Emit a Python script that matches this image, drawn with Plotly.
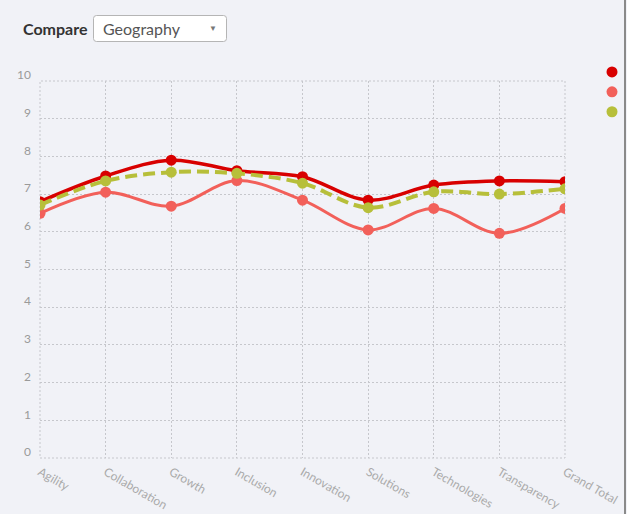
import plotly.graph_objects as go

categories = ["Agility", "Collaboration", "Growth", "Inclusion", "Innovation",
              "Solutions", "Technologies", "Transparency", "Grand Total"]
series_names = ["Europe", "North America", "Total"]
red_vals = [6.80, 7.48, 7.90, 7.62, 7.46, 6.84, 7.24, 7.35, 7.33]
salmon_vals = [6.49, 7.05, 6.68, 7.36, 6.84, 6.05, 6.62, 5.96, 6.62]
olive_vals = [6.71, 7.35, 7.58, 7.55, 7.29, 6.64, 7.06, 7.00, 7.14]
y_ticks = [0, 1, 2, 3, 4, 5, 6, 7, 8, 9, 10]

colors = ["#d80000", "#f2605a", "#b7bf3a"]
W, H = 627, 514
L, R, T, B = 40, 62, 81, 56
PW, PH = W - L - R, H - T - B


def px(x):
    return (x - L) / PW


def py(y):
    return (H - B - y) / PH


BG = "#f1f2f7"
FONT = "Lato"
GRID = "#c6c7cc"

fig = go.Figure()
vals = [red_vals, salmon_vals, olive_vals]
widths = [3.5, 3, 4]
dashes = ["solid", "solid", "12px,6px"]
for name, v, c, w, d in zip(series_names, vals, colors, widths, dashes):
    fig.add_trace(go.Scatter(
        x=categories, y=v, mode="lines+markers", name=name,
        line=dict(color=c, width=w, shape="spline", dash=d),
        marker=dict(color=c, size=11), showlegend=False,
        hoverinfo="x+y+name"))
for name, c in zip(series_names, colors):
    fig.add_trace(go.Scatter(
        x=[None], y=[None], mode="markers", name=name,
        marker=dict(color=c, size=11), showlegend=True))

grid = dict(showgrid=True, gridcolor=GRID, griddash="2px,2px", gridwidth=1,
            zeroline=False, showline=False)

fig.update_layout(
    width=W, height=H,
    margin=dict(l=L, r=R, t=T, b=B, autoexpand=False),
    paper_bgcolor=BG, plot_bgcolor=BG,
    font=dict(family=FONT, color="#999"),
    xaxis=dict(type="category", range=[0, len(categories) - 1],
               tickangle=30, tickfont=dict(size=12, color="#aaaaaa"),
               ticks="", ticklabelstandoff=4, **grid),
    yaxis=dict(range=[0, 10], tickvals=y_ticks, ticklabelshift=-6,
               tickfont=dict(size=12, color="#9a9a9a"), ticks="",
               ticklabelstandoff=8, **grid),
    legend=dict(x=px(592), xanchor="left", y=py(57), yanchor="top",
                bgcolor="rgba(0,0,0,0)", font=dict(size=13, color="#555"),
                tracegroupgap=0, itemclick=False),
    showlegend=True,
)

# dotted frame of the plotting area (edge gridlines)
fig.add_shape(type="rect", xref="paper", yref="paper", x0=0, x1=1, y0=0, y1=1,
              line=dict(color=GRID, width=1, dash="2px,2px"), layer="below")

# Compare label and dropdown look-alike
fig.add_annotation(x=px(21), y=py(28), xref="paper", yref="paper",
                   text="<b>Compare</b>", showarrow=False, xanchor="left",
                   yanchor="middle", font=dict(size=16, color="#333", family=FONT))
x0, x1, y0, y1, r = px(93.5), px(226.5), py(15.5), py(41.5), 3
rx, ry = r / PW, r / PH
path = (f"M {x0+rx},{y0} L {x1-rx},{y0} Q {x1},{y0} {x1},{y0-ry} "
        f"L {x1},{y1+ry} Q {x1},{y1} {x1-rx},{y1} L {x0+rx},{y1} "
        f"Q {x0},{y1} {x0},{y1+ry} L {x0},{y0-ry} Q {x0},{y0} {x0+rx},{y0} Z")
fig.add_shape(type="path", path=path, xref="paper", yref="paper",
              line=dict(color="#b5b5b5", width=1), fillcolor="white")
fig.add_annotation(x=px(101), y=py(29), xref="paper", yref="paper",
                   text="Geography", showarrow=False, xanchor="left",
                   yanchor="middle", font=dict(size=16, color="#555", family=FONT))
fig.add_annotation(x=px(213), y=py(28), xref="paper", yref="paper",
                   text="▼", showarrow=False, xanchor="center",
                   yanchor="middle", font=dict(size=8, color="#777", family=FONT))

# container border on the right
fig.add_shape(type="line", xref="paper", yref="paper",
              x0=px(625), x1=px(625), y0=py(0), y1=py(H),
              line=dict(color="#8a8a8a", width=2))

fig.write_html("out.html", config={"displayModeBar": False},
               post_script="document.body.style.margin='0';document.body.style.background='%s';" % BG)
